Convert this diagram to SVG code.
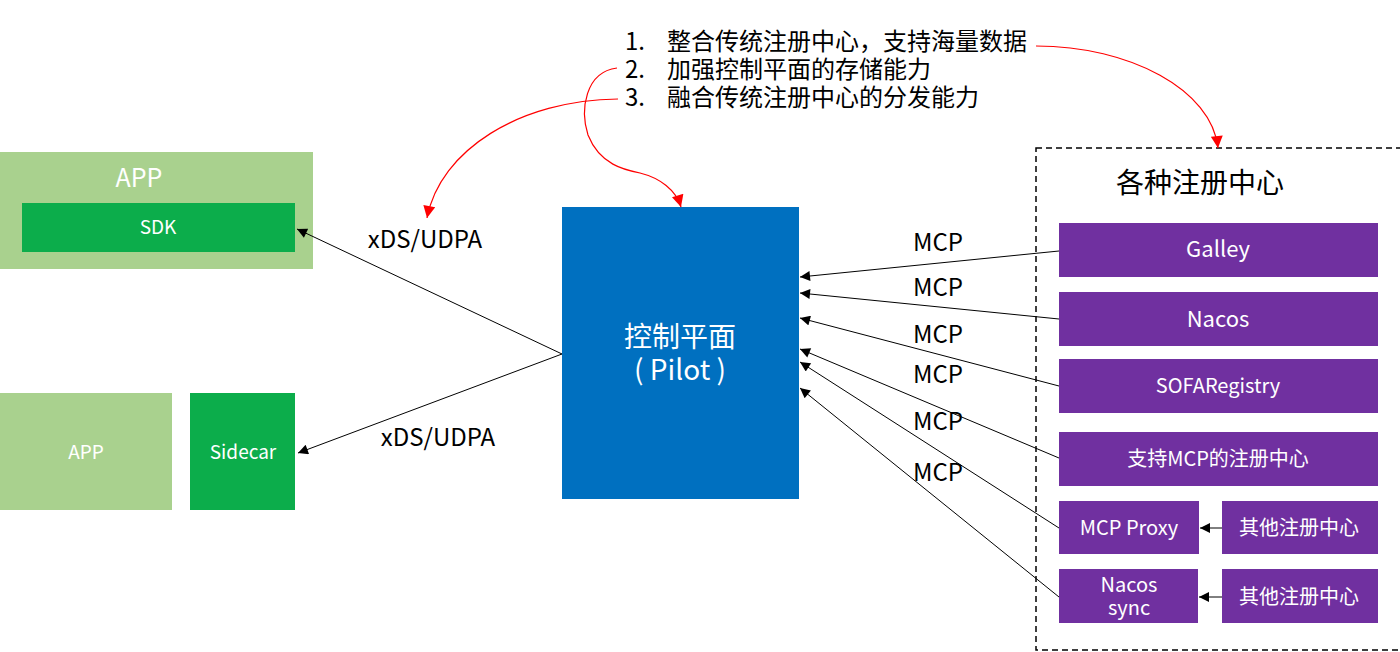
<svg xmlns="http://www.w3.org/2000/svg" width="1400" height="652" viewBox="0 0 1400 652">
<defs>
<marker id="ab" viewBox="0 0 10 10" refX="10" refY="5" markerWidth="12" markerHeight="10" markerUnits="userSpaceOnUse" orient="auto"><path d="M0,0 L10,5 L0,10 z" fill="#000"/></marker>
<marker id="ar" viewBox="0 0 10 10" refX="10" refY="5" markerWidth="14" markerHeight="12" markerUnits="userSpaceOnUse" orient="auto"><path d="M0,0 L10,5 L0,10 z" fill="#f00"/></marker>
<style>
text{font-family:"Noto Sans CJK SC","Noto Sans",sans-serif}
.w{fill:#fff;text-anchor:middle}
.k{fill:#000}
.c{fill:#000;text-anchor:middle;font-size:24px}
.p{fill:#7030a0}
.ln{stroke:#000;stroke-width:1;fill:none;marker-end:url(#ab)}
.rd{stroke:#f00;stroke-width:1.2;fill:none;marker-end:url(#ar)}
</style>
</defs>
<rect width="1400" height="652" fill="#fff"/>
<g id="notes">
<text class="k" font-size="24"><tspan x="625" y="50">1.</tspan><tspan x="667" y="50">整合传统注册中心，支持海量数据</tspan><tspan x="625" y="78">2.</tspan><tspan x="667" y="78">加强控制平面的存储能力</tspan><tspan x="625" y="106">3.</tspan><tspan x="667" y="106">融合传统注册中心的分发能力</tspan></text>
</g>
<g id="app1">
<rect x="0" y="152" width="313" height="117" fill="#a9d18e"/>
<text class="w" x="139" y="187" font-size="25">APP</text>
</g>
<g id="sdk">
<rect x="22" y="203" width="273" height="49" fill="#0cad4b"/>
<text class="w" x="158" y="234" font-size="19">SDK</text>
</g>
<g id="app2">
<rect x="0" y="393" width="172" height="117" fill="#a9d18e"/>
<text class="w" x="86" y="459" font-size="19">APP</text>
</g>
<g id="sidecar">
<rect x="190" y="393" width="105" height="117" fill="#0cad4b"/>
<text class="w" x="243" y="459" font-size="19">Sidecar</text>
</g>
<g id="pilot">
<rect x="562" y="207" width="237" height="292" fill="#0070c0"/>
<text class="w" font-size="28"><tspan x="680" y="347">控制平面</tspan><tspan x="680" y="380">( Pilot )</tspan></text>
</g>
<g id="registries">
<rect x="1036" y="148" width="400" height="502" fill="none" stroke="#000" stroke-width="1.5" stroke-dasharray="6,4"/>
<text class="k" x="1200" y="193" font-size="28" text-anchor="middle">各种注册中心</text>
</g>
<g id="galley"><rect class="p" x="1059" y="223" width="319" height="54"/><text class="w" x="1218" y="257" font-size="22">Galley</text></g>
<g id="nacos"><rect class="p" x="1059" y="292" width="319" height="54"/><text class="w" x="1218" y="327" font-size="22">Nacos</text></g>
<g id="sofa"><rect class="p" x="1059" y="359" width="319" height="54"/><text class="w" x="1218" y="393" font-size="20">SOFARegistry</text></g>
<g id="mcpreg"><rect class="p" x="1059" y="432" width="319" height="54"/><text class="w" x="1218" y="466" font-size="20">支持MCP的注册中心</text></g>
<g id="mcpproxy"><rect class="p" x="1059" y="501" width="140" height="53"/><text class="w" x="1129" y="535" font-size="20">MCP Proxy</text></g>
<g id="other1"><rect class="p" x="1222" y="501" width="156" height="53"/><text class="w" x="1299" y="535" font-size="20">其他注册中心</text></g>
<g id="nacossync"><rect class="p" x="1059" y="569" width="139" height="54"/><text class="w" font-size="20"><tspan x="1129" y="592">Nacos</tspan><tspan x="1129" y="615">sync</tspan></text></g>
<g id="other2"><rect class="p" x="1222" y="569" width="156" height="54"/><text class="w" x="1299" y="604" font-size="20">其他注册中心</text></g>
<g id="connectors">
<path class="ln" d="M562,354 L297,229"/>
<path class="ln" d="M562,354 L298,453"/>
<path class="ln" d="M1059,251 L800,277"/>
<path class="ln" d="M1059,319 L800,293"/>
<path class="ln" d="M1059,386 L800,318"/>
<path class="ln" d="M1059,458 L800,349"/>
<path class="ln" d="M1059,528 L800,362"/>
<path class="ln" d="M1059,597 L800,388"/>
<path class="ln" d="M1222,528 L1200,528"/>
<path class="ln" d="M1222,597 L1199,597"/>
<path class="rd" d="M1036,46 C1130,46 1212,90 1218,148"/>
<path class="rd" d="M617,68 C585,72 580,110 588,135 C600,165 625,170 640,173 C660,178 676,190 681,207"/>
<path class="rd" d="M618,99 C520,100 440,150 427,218"/>
<text class="c" x="425" y="248">xDS/UDPA</text>
<text class="c" x="438" y="446">xDS/UDPA</text>
<text class="c" x="938" y="251">MCP</text>
<text class="c" x="938" y="296">MCP</text>
<text class="c" x="938" y="343">MCP</text>
<text class="c" x="938" y="383">MCP</text>
<text class="c" x="938" y="430">MCP</text>
<text class="c" x="938" y="481">MCP</text>
</g>
</svg>
